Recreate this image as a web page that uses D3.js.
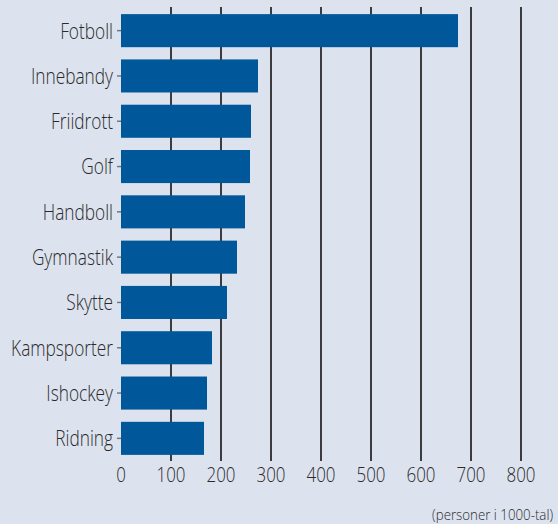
<!doctype html>
<html>
    <head>
        <meta charset="utf-8">
        <script src="https://cdn.jsdelivr.net/npm/d3@7"></script>
        <style>
            html, body {
                margin: 0;
                padding: 0;
                background-color: #dce3ef;
            }
            #viz svg {
                display: block;
                font-family: "Open Sans", "Noto Sans", sans-serif;
                font-weight: 300;
            }
        </style>
    </head>
    <body>
        <div id="viz"></div>
        <script>
            // data (thousands of people)
            var categories = ["Fotboll", "Innebandy", "Friidrott", "Golf", "Handboll",
                              "Gymnastik", "Skytte", "Kampsporter", "Ishockey", "Ridning"];
            var values = [674, 274, 260, 258, 248, 232, 212, 182, 172, 166];
            var xTicks = [0, 100, 200, 300, 400, 500, 600, 700, 800];
            var unitLabel = "(personer i 1000-tal)";

            var w = 558, h = 524;

            var svg = d3.select("#viz").append("svg")
                .attr("width", w)
                .attr("height", h);

            svg.append("rect")
                .attr("width", w)
                .attr("height", h)
                .attr("fill", "#dce3ef");

            var x = d3.scaleLinear()
                .domain([0, 800])
                .range([121, 521]);

            var y = d3.scaleBand()
                .domain(categories)
                .range([8, 461])
                .paddingInner(0.27)
                .paddingOuter(0.135);

            // the original font is a condensed one, so squeeze a normal one
            var squeeze = function (size, sample, target) {
                var t = svg.append("text").attr("font-size", size).text(sample);
                var len = t.node().getComputedTextLength();
                t.remove();
                return target / len;
            };
            var kCat = squeeze(22, "Kampsporter", 102);
            var kTick = squeeze(20, "100", 29);
            var kUnit = squeeze(14, unitLabel, 121);

            // vertical gridlines (not at zero)
            svg.selectAll("line.grid")
                .data(xTicks.filter(function (d) { return d > 0; }))
                .enter()
                .append("line")
                    .attr("class", "grid")
                    .attr("x1", function (d) { return x(d); })
                    .attr("x2", function (d) { return x(d); })
                    .attr("y1", 7)
                    .attr("y2", 461)
                    .attr("stroke", "#3c3c3e")
                    .attr("stroke-width", 2);

            // small category ticks
            svg.selectAll("line.ctick")
                .data(categories)
                .enter()
                .append("line")
                    .attr("class", "ctick")
                    .attr("x1", x(0) - 4)
                    .attr("x2", x(0))
                    .attr("y1", function (d) { return y(d) + y.bandwidth() / 2; })
                    .attr("y2", function (d) { return y(d) + y.bandwidth() / 2; })
                    .attr("stroke", "#777")
                    .attr("stroke-width", 1.5);

            // bars
            svg.selectAll("rect.bar")
                .data(values)
                .enter()
                .append("rect")
                    .attr("class", "bar")
                    .attr("x", x(0))
                    .attr("y", function (d, i) { return y(categories[i]); })
                    .attr("width", function (d) { return x(d) - x(0); })
                    .attr("height", y.bandwidth())
                    .attr("fill", "#005799");

            // category labels
            svg.selectAll("text.cat")
                .data(categories)
                .enter()
                .append("text")
                    .attr("class", "cat")
                    .attr("transform", function (d) {
                        return "translate(113," + (y(d) + y.bandwidth() / 2) + ") scale(" + kCat + ",1)";
                    })
                    .attr("dy", "0.36em")
                    .attr("text-anchor", "end")
                    .attr("font-size", 22)
                    .attr("fill", "#2a2a2a")
                    .text(function (d) { return d; });

            // x tick labels
            svg.selectAll("text.xt")
                .data(xTicks)
                .enter()
                .append("text")
                    .attr("class", "xt")
                    .attr("transform", function (d) {
                        return "translate(" + x(d) + ",475) scale(" + kTick + ",1)";
                    })
                    .attr("dy", "0.36em")
                    .attr("text-anchor", "middle")
                    .attr("font-size", 20)
                    .attr("fill", "#2a2a2a")
                    .text(function (d) { return d; });

            svg.append("text")
                .attr("transform", "translate(553,515) scale(" + kUnit + ",1)")
                .attr("dy", "0.36em")
                .attr("text-anchor", "end")
                .attr("font-size", 14)
                .attr("fill", "#2a2a2a")
                .text(unitLabel);
        </script>
    </body>
</html>
